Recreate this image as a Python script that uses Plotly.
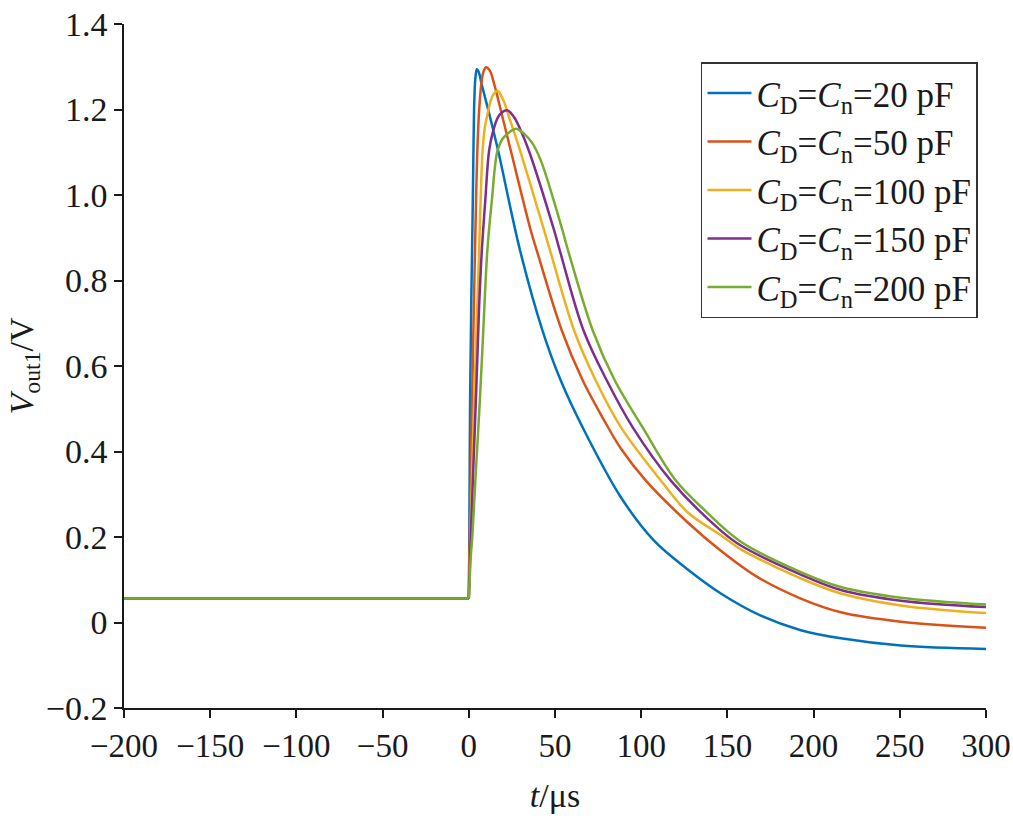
import plotly.graph_objects as go

# ---- data ----
t_base = [-200, 0]
v_base = [0.056, 0.056]

t_20 = [0, 0.3, 0.75, 1.45, 2.15, 2.7, 3.2, 3.8, 4.65, 5.8, 7.4, 12.35, 17.0, 29.75, 42.75, 53.35, 65.95, 88.2, 107.3, 127.0, 146.2, 169.4, 192.6, 215.8, 250.6, 300]
v_20 = [0.056, 0.192, 0.519, 0.753, 0.940, 1.104, 1.221, 1.272, 1.294, 1.287, 1.260, 1.182, 1.104, 0.870, 0.683, 0.566, 0.457, 0.293, 0.192, 0.124, 0.068, 0.016, -0.018, -0.037, -0.054, -0.062]

t_50 = [0, 0.9, 1.9, 3.0, 3.6, 4.2, 4.95, 6.0, 7.25, 8.4, 10.0, 12.2, 14.7, 19.55, 24.35, 35.95, 39.45, 53.95, 66.1, 78.5, 88.2, 102.7, 127.0, 146.2, 167.6, 192.6, 215.8, 250.6, 300]
v_50 = [0.056, 0.285, 0.519, 0.753, 0.870, 0.987, 1.104, 1.198, 1.260, 1.287, 1.299, 1.291, 1.260, 1.182, 1.104, 0.917, 0.870, 0.683, 0.566, 0.473, 0.407, 0.332, 0.234, 0.168, 0.106, 0.056, 0.024, 0.002, -0.012]

t_100 = [0, 0.9, 3.1, 4.65, 6.0, 6.85, 8.0, 9.3, 10.95, 12.75, 14.5, 16.65, 20.1, 23.4, 29.75, 43.7, 47.15, 61.1, 73.65, 88.2, 111.4, 126.9, 146.2, 157.8, 181.0, 192.6, 215.8, 250.6, 300]
v_100 = [0.056, 0.192, 0.519, 0.706, 0.870, 0.987, 1.104, 1.158, 1.191, 1.221, 1.237, 1.244, 1.221, 1.182, 1.104, 0.917, 0.870, 0.683, 0.566, 0.457, 0.332, 0.258, 0.204, 0.171, 0.124, 0.103, 0.068, 0.040, 0.022]

t_150 = [0, 1.2, 4.1, 6.1, 7.55, 9.55, 11.8, 14.2, 16.8, 19.15, 22.45, 26.3, 30.15, 34.8, 49.5, 52.8, 66.55, 80.05, 95.0, 117.2, 146.2, 157.8, 192.6, 215.8, 250.6, 300]
v_150 = [0.056, 0.208, 0.519, 0.753, 0.870, 0.987, 1.104, 1.151, 1.181, 1.193, 1.198, 1.182, 1.151, 1.104, 0.917, 0.870, 0.683, 0.566, 0.457, 0.332, 0.215, 0.180, 0.112, 0.076, 0.051, 0.036]

t_200 = [0, 1.2, 2.15, 3.8, 6.4, 8.4, 10.75, 13.35, 16.65, 19.7, 22.45, 24.95, 27.65, 32.1, 36.55, 41.75, 54.35, 57.6, 71.9, 84.7, 100.75, 120.1, 137.5, 157.8, 192.6, 215.8, 250.6, 300]
v_200 = [0.056, 0.157, 0.208, 0.332, 0.519, 0.683, 0.870, 0.987, 1.104, 1.132, 1.143, 1.151, 1.155, 1.143, 1.123, 1.081, 0.917, 0.870, 0.683, 0.566, 0.457, 0.332, 0.260, 0.189, 0.118, 0.083, 0.058, 0.042]

series_names = ["20", "50", "100", "150", "200"]
series_t = [t_20, t_50, t_100, t_150, t_200]
series_v = [v_20, v_50, v_100, v_150, v_200]
colors = ["#0072BD", "#D95319", "#EDB120", "#7E2F8E", "#77AC30"]

x_ticks = [-200, -150, -100, -50, 0, 50, 100, 150, 200, 250, 300]
x_ticktext = ["\u2212200", "\u2212150", "\u2212100", "\u221250", "0", "50", "100", "150", "200", "250", "300"]
y_ticks = [-0.2, 0, 0.2, 0.4, 0.6, 0.8, 1.0, 1.2, 1.4]
y_ticktext = ["\u22120.2", "0", "0.2", "0.4", "0.6", "0.8", "1.0", "1.2", "1.4"]

FONT = "Liberation Serif, Times New Roman, serif"
INK = "#1a1a1a"

fig = go.Figure()
for i, (name, tt, vv, c) in enumerate(zip(series_names, series_t, series_v, colors)):
    grp = "g%d" % i
    # flat pre-trigger level
    fig.add_trace(go.Scatter(
        x=t_base, y=v_base, mode="lines", line=dict(color=c, width=2.5),
        legendgroup=grp, showlegend=False, hoverinfo="skip",
    ))
    # pulse
    fig.add_trace(go.Scatter(
        x=tt, y=vv, mode="lines",
        line=dict(color=c, width=2.5, shape="spline", smoothing=1.0),
        legendgroup=grp,
        name="<i>C</i><sub>D</sub>=<i>C</i><sub>n</sub>=%s pF" % name,
    ))

fig.update_layout(
    width=1013, height=818,
    margin=dict(l=124, r=27, t=24, b=110),
    paper_bgcolor="white", plot_bgcolor="white",
    font=dict(family=FONT, size=33, color=INK),
    showlegend=True,
    legend=dict(
        x=0.9907, y=0.944, xanchor="right", yanchor="top",
        bordercolor="#333333", borderwidth=1.5, bgcolor="white",
        font=dict(family=FONT, size=35, color=INK),
        tracegroupgap=0, itemwidth=44,
    ),
)
fig.update_xaxes(
    range=[-200, 300], autorange=False,
    tickvals=x_ticks, ticktext=x_ticktext,
    showline=True, linecolor=INK, linewidth=1.5,
    ticks="outside", ticklen=8, tickwidth=1.5, tickcolor=INK,
    showgrid=False, zeroline=False, mirror=False,
    tickfont=dict(family=FONT, size=33, color=INK),
    title=dict(text="<i>t</i>/\u03bcs", font=dict(family=FONT, size=34, color=INK), standoff=20),
    automargin=False,
)
fig.update_yaxes(
    range=[-0.2, 1.4], autorange=False,
    tickvals=y_ticks, ticktext=y_ticktext,
    showline=True, linecolor=INK, linewidth=1.5,
    ticks="outside", ticklen=8, tickwidth=1.5, tickcolor=INK,
    showgrid=False, zeroline=False, mirror=False,
    tickfont=dict(family=FONT, size=34, color=INK),
    title=dict(text="<i>V</i><sub>out1</sub>/V", font=dict(family=FONT, size=34, color=INK), standoff=2),
    automargin=False,
)

fig.write_html("out.html")
